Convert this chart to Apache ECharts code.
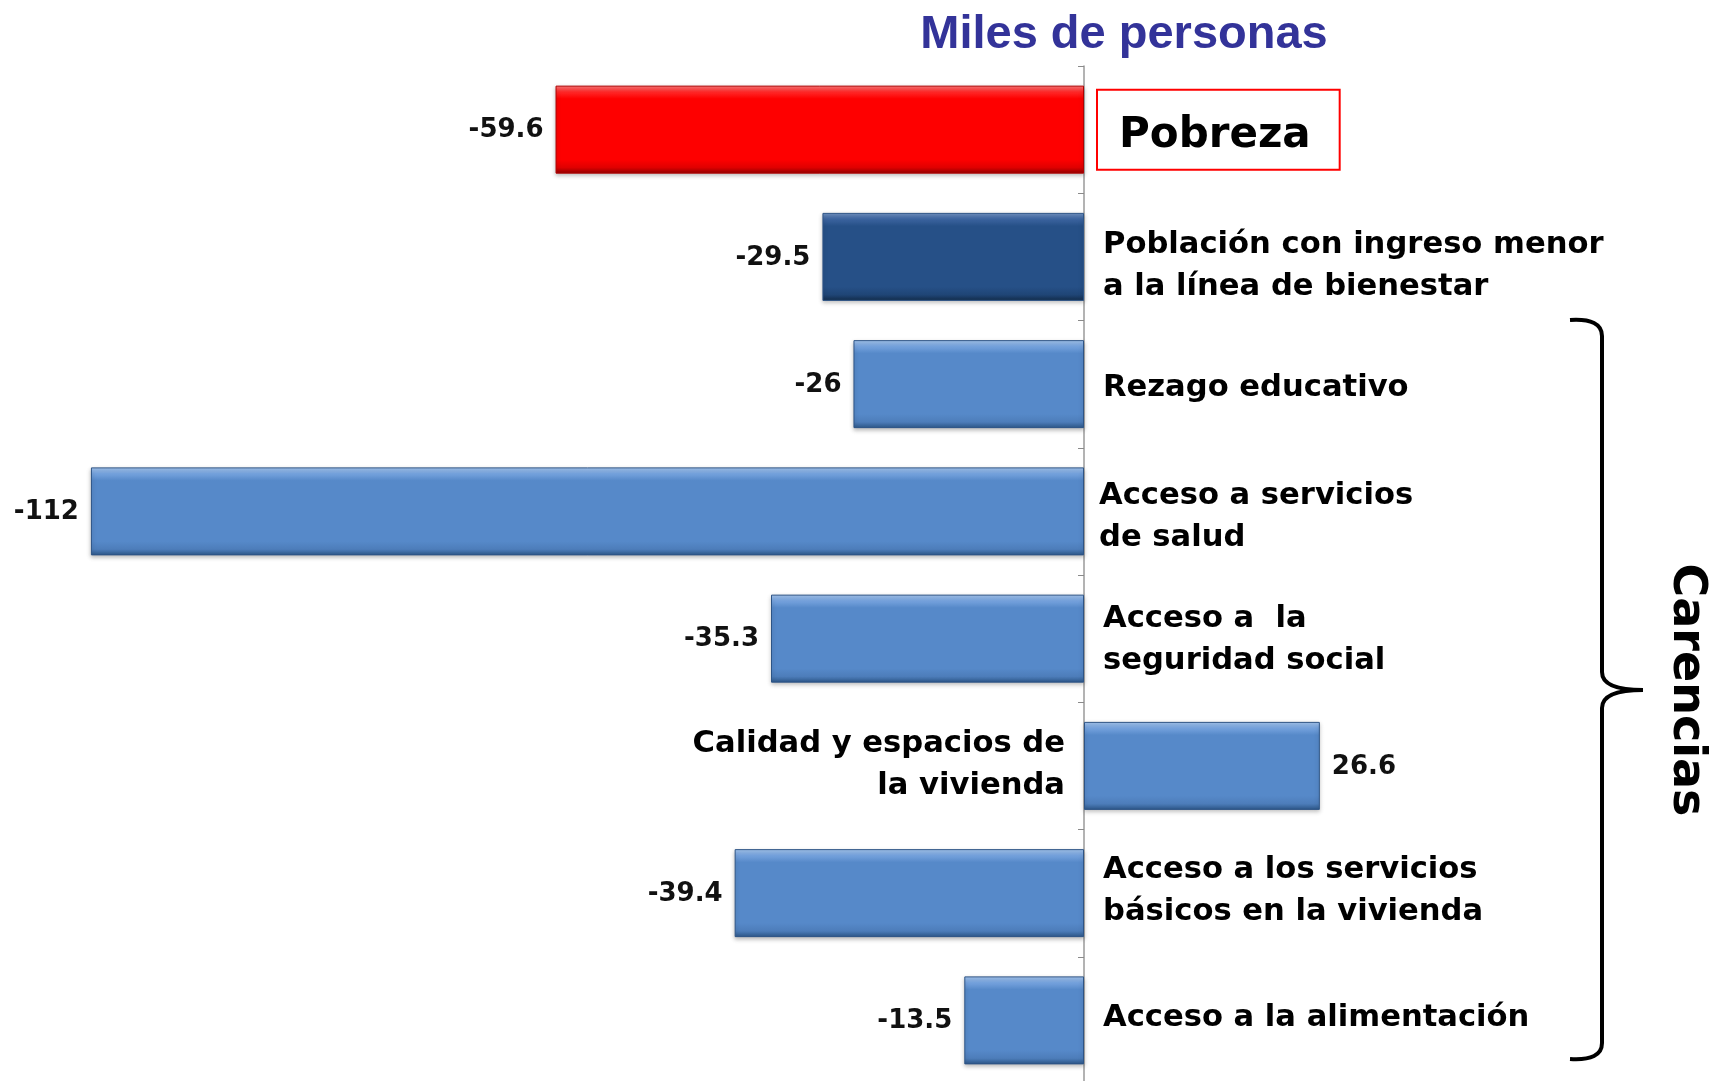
<!DOCTYPE html>
<html>
<head>
<meta charset="utf-8">
<script src="https://cdn.jsdelivr.net/npm/echarts@6/dist/echarts.min.js"></script>
<style>
  html, body { margin: 0; padding: 0; background: #fff; }
  #chart { width: 1716px; height: 1081px; }
</style>
</head>
<body>
<div id="chart"></div>
<script>
// datos
var categorias = [
	'Pobreza',
	'Población con ingreso menor\na la línea de bienestar',
	'Rezago educativo',
	'Acceso a servicios\nde salud',
	'Acceso a  la\nseguridad social',
	'Calidad y espacios de\nla vivienda',
	'Acceso a los servicios\nbásicos en la vivienda',
	'Acceso a la alimentación'
];
var valores = [-59.6, -29.5, -26, -112, -35.3, 26.6, -39.4, -13.5];
var titulo = 'Miles de personas';
var grupo = 'Carencias';

// pequeños ajustes verticales de las etiquetas (px), como en la lámina original
var desplaz = [0, 9, 4, 6, 1, -1, -2, -2];

function bisel(top, hi, base, low, bottom) {
	return new echarts.graphic.LinearGradient(0, 0, 0, 1, [
		{ offset: 0, color: top },
		{ offset: 0.07, color: hi },
		{ offset: 0.15, color: base },
		{ offset: 0.84, color: base },
		{ offset: 0.93, color: low },
		{ offset: 1, color: bottom }
	]);
}
var rojo = bisel('#ff7a7a', '#ff2a2a', '#fe0000', '#e00000', '#8f0000');
var azulOscuro = bisel('#7395c4', '#3c64a0', '#265087', '#1f4576', '#132c4a');
var azul = bisel('#a6c7f0', '#76a3de', '#5689c9', '#4d7dba', '#2c5687');

var fuente = 'DejaVu Sans';

var chart = echarts.init(document.getElementById('chart'));

var barras = valores.map(function (v, i) {
	var color = i === 0 ? rojo : (i === 1 ? azulOscuro : azul);
	var borde = i === 0 ? '#b00000' : '#2d5486';
	return {
		value: v,
		itemStyle: { color: color, borderColor: borde, borderWidth: 1 },
		label: { position: v < 0 ? 'left' : 'right' }
	};
});

var nombres = valores.map(function (v, i) {
	var item = {
		value: v,
		label: {
			position: v < 0 ? 'right' : 'left',
			offset: [0, desplaz[i]]
		}
	};
	if (i === 3) item.label.distance = 15;
	if (i === 0) {
		item.label = {
			position: 'right',
			distance: 13,
			fontSize: 42,
			verticalAlign: 'top',
			offset: [0, -40],
			borderColor: '#ff0000',
			borderWidth: 2,
			padding: [25, 29, 13, 22]
		};
	}
	return item;
});

// llave de "Carencias"
var trazo = { fill: 'none', stroke: '#000', lineWidth: 4 };
var llave = [
	{ type: 'bezierCurve', shape: { x1: 1570, y1: 320, cpx1: 1602, cpy1: 318, x2: 1602, y2: 336 }, style: trazo },
	{ type: 'line', shape: { x1: 1602, y1: 336, x2: 1602, y2: 672 }, style: trazo },
	{ type: 'bezierCurve', shape: { x1: 1602, y1: 672, cpx1: 1602, cpy1: 690, x2: 1643, y2: 690 }, style: trazo },
	{ type: 'bezierCurve', shape: { x1: 1643, y1: 690, cpx1: 1602, cpy1: 690, x2: 1602, y2: 708 }, style: trazo },
	{ type: 'line', shape: { x1: 1602, y1: 708, x2: 1602, y2: 1043 }, style: trazo },
	{ type: 'bezierCurve', shape: { x1: 1602, y1: 1043, cpx1: 1602, cpy1: 1061, x2: 1570, y2: 1059 }, style: trazo }
];

var option = {
	backgroundColor: '#fff',
	animation: false,
	grid: { left: 20, right: 100, top: 66, height: 1018, outerBoundsMode: 'none' },
	xAxis: {
		type: 'value',
		min: -120,
		max: 60,
		show: false
	},
	yAxis: {
		type: 'category',
		inverse: true,
		data: categorias,
		axisLine: { show: true, lineStyle: { color: '#9a9a9a', width: 1.5 } },
		axisTick: { show: true, length: 6, lineStyle: { color: '#8a8a8a' } },
		axisLabel: { show: false },
		splitLine: { show: false }
	},
	series: [
		{
			type: 'bar',
			data: barras,
			barWidth: 88,
			z: 2,
			itemStyle: {
				shadowColor: 'rgba(0,0,0,0.25)',
				shadowBlur: 4,
				shadowOffsetY: 2
			},
			label: {
				show: true,
				distance: 12,
				offset: [0, 1],
				color: '#111',
				fontFamily: fuente,
				fontWeight: 'bold',
				fontSize: 26,
				formatter: function (p) { return String(p.value); }
			}
		},
		{
			type: 'bar',
			data: nombres,
			barWidth: 88,
			barGap: '-100%',
			z: 3,
			silent: true,
			itemStyle: { color: 'rgba(0,0,0,0)' },
			label: {
				show: true,
				distance: 19,
				color: '#000',
				fontFamily: fuente,
				fontWeight: 'bold',
				fontSize: 30.6,
				lineHeight: 42,
				formatter: function (p) { return categorias[p.dataIndex]; }
			}
		}
	],
	graphic: [
		{
			type: 'text',
			x: 1124,
			y: 35,
			style: {
				text: titulo,
				fill: '#333399',
				font: 'bold 47px "Liberation Sans", Arial, sans-serif',
				textAlign: 'center',
				textVerticalAlign: 'middle'
			}
		},
		{
			type: 'text',
			x: 1686,
			y: 690,
			rotation: -Math.PI / 2,
			style: {
				text: grupo,
				fill: '#000',
				font: 'bold 46px "DejaVu Sans", sans-serif',
				textAlign: 'center',
				textVerticalAlign: 'middle'
			}
		}
	].concat(llave)
};

chart.setOption(option);
</script>
</body>
</html>
